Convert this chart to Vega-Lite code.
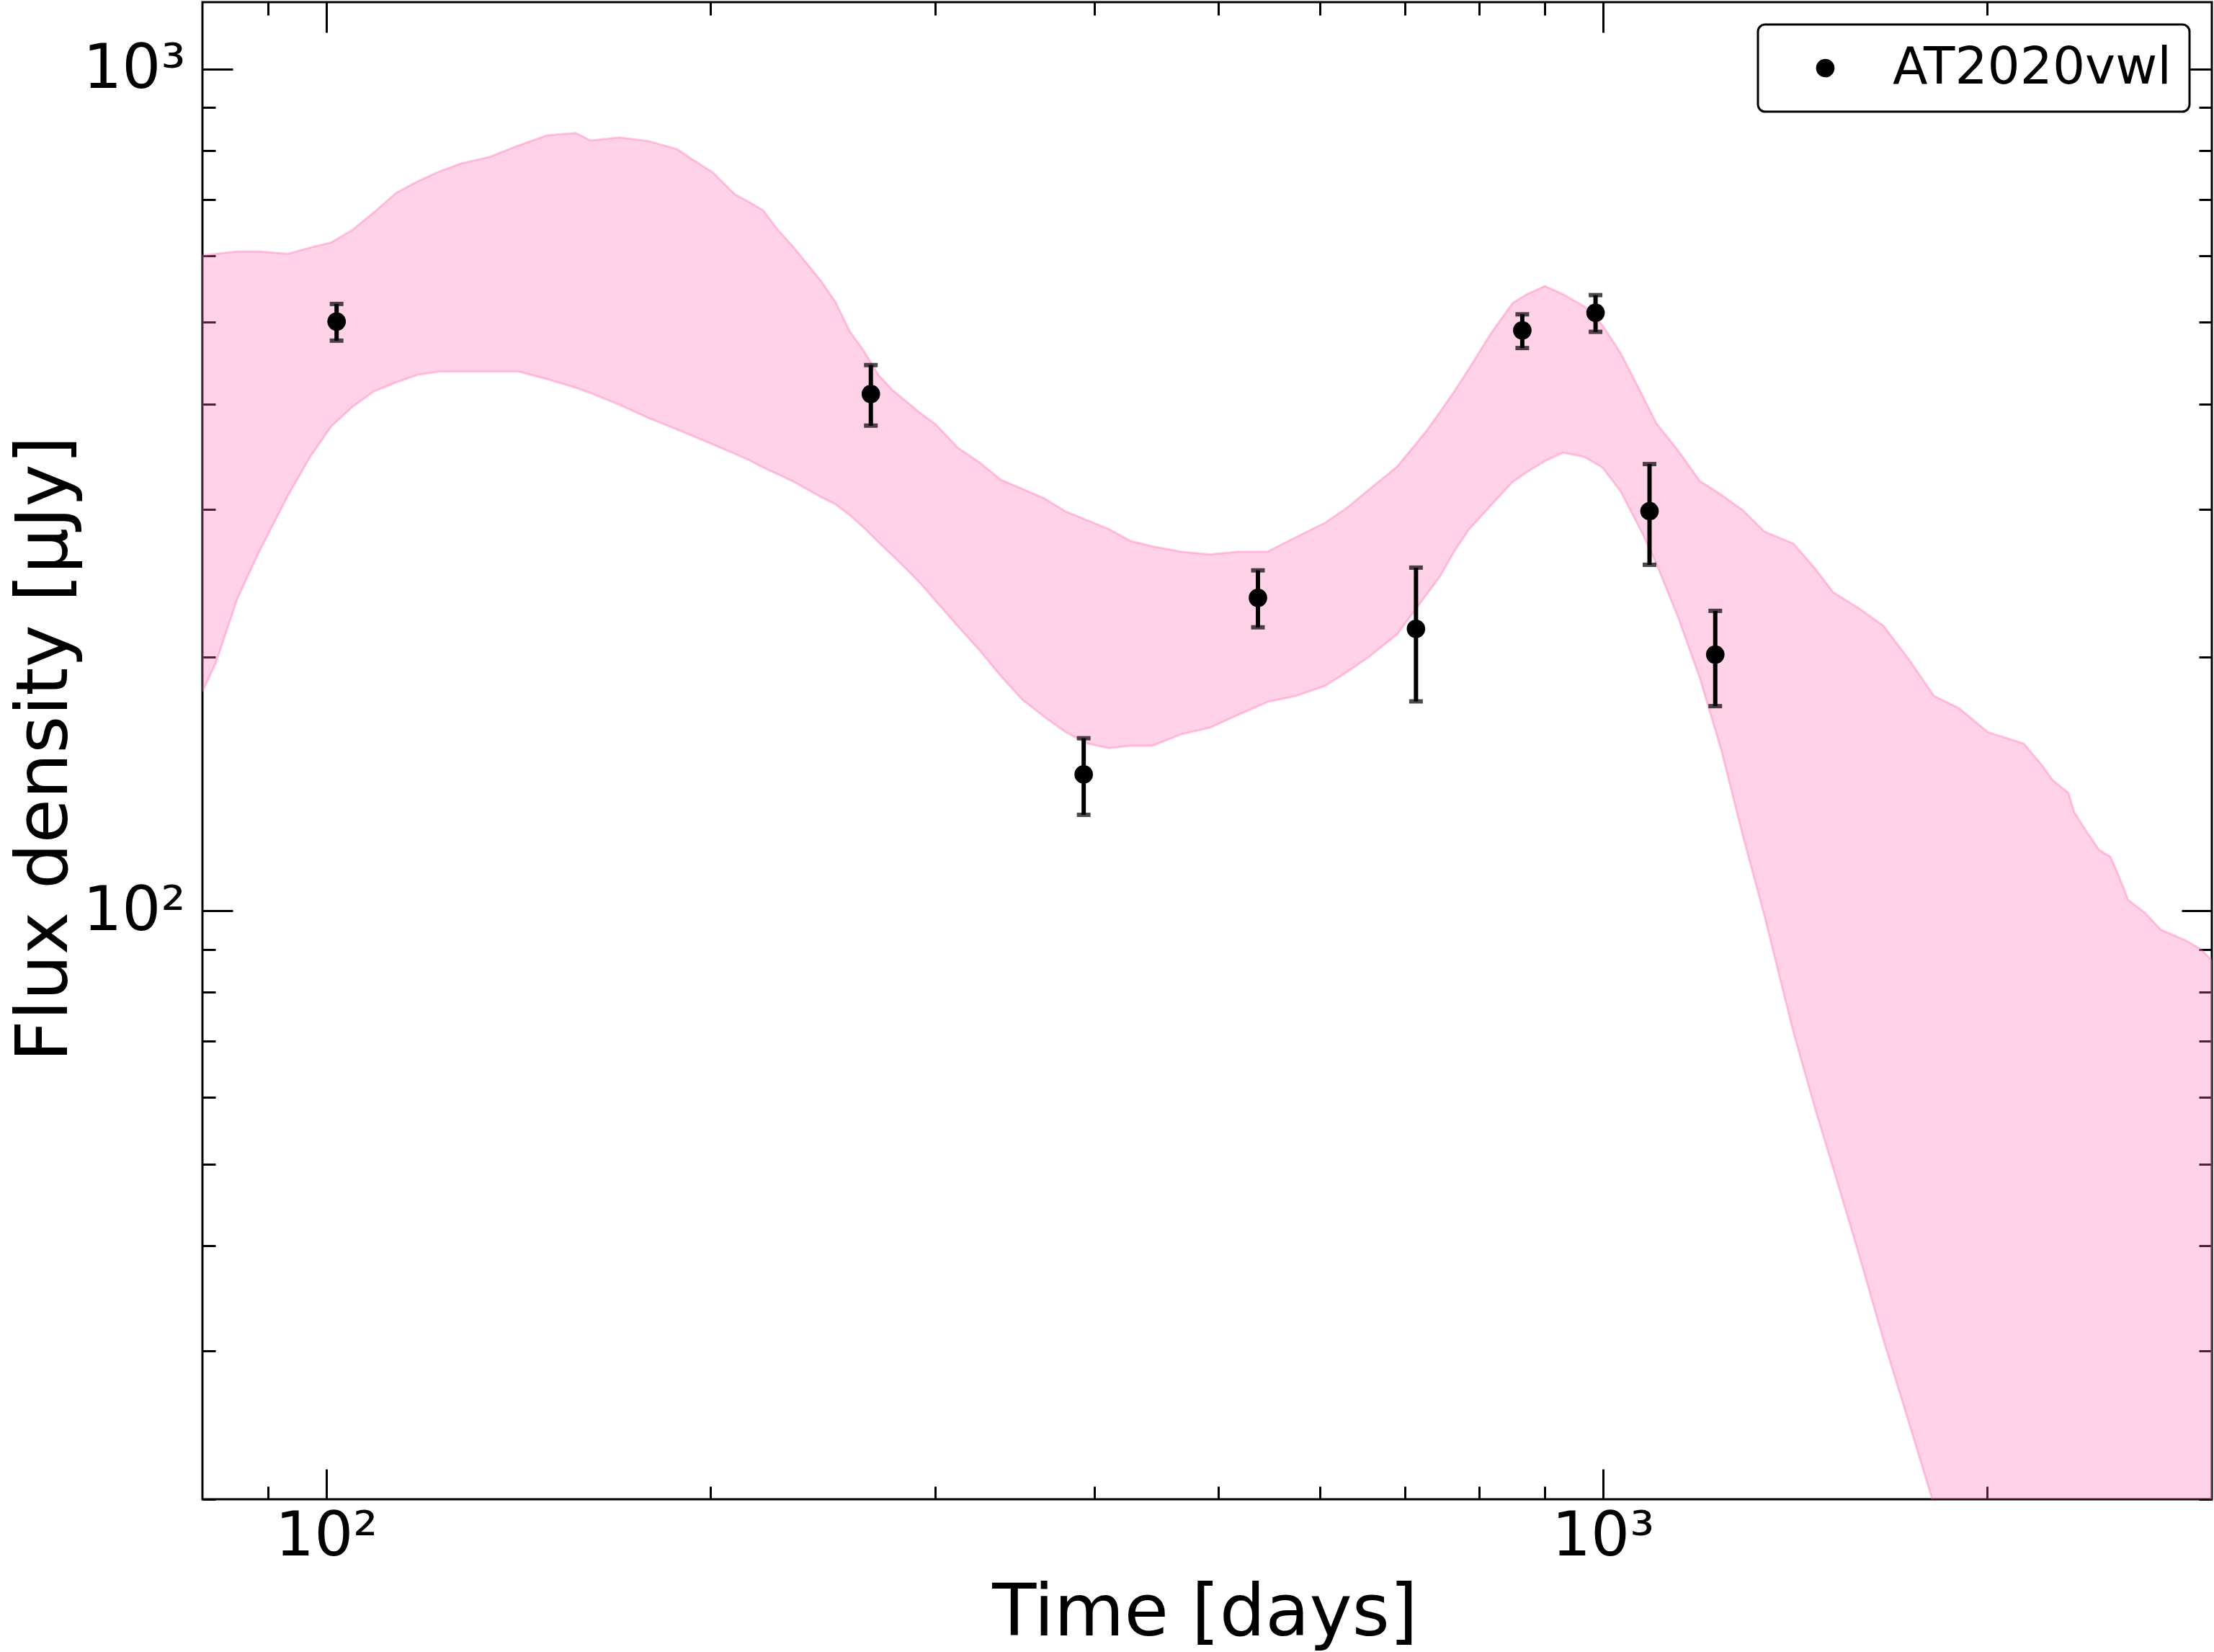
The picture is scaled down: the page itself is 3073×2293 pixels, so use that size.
{
  "$schema": "https://vega.github.io/schema/vega-lite/v6.json",
  "width": 2789,
  "height": 2078,
  "autosize": {"type": "none"},
  "padding": {"left": 281, "top": 3, "right": 3, "bottom": 212},
  "background": "white",
  "config": {
    "view": {"stroke": "black", "strokeWidth": 3},
    "font": "DejaVu Sans",
    "axis": {
      "grid": false,
      "domain": false,
      "tickColor": "black",
      "tickWidth": 3,
      "labelColor": "black",
      "labelFont": "DejaVu Sans",
      "labelFontSize": 85,
      "titleFont": "DejaVu Sans",
      "titleFontSize": 100,
      "titleFontWeight": "normal",
      "titleColor": "black",
      "labelLimit": 1000,
      "titleLimit": 3000,
      "labelOverlap": false,
      "labelFlush": false
    },
    "legend": {
      "orient": "top-right",
      "offset": 31,
      "padding": 25,
      "strokeColor": "black",
      "strokeWidth": 3,
      "cornerRadius": 10,
      "fillColor": "white",
      "labelFont": "DejaVu Sans",
      "labelFontSize": 71,
      "labelColor": "black",
      "labelLimit": 2000,
      "symbolType": "circle",
      "symbolSize": 660,
      "symbolStrokeWidth": 0,
      "symbolOffset": 33,
      "labelOffset": 58
    }
  },
  "datasets": {
    "band": [
      {"t": 80, "hi": 600, "lo": 182},
      {"t": 81.96, "hi": 603, "lo": 197},
      {"t": 85.22, "hi": 607, "lo": 235},
      {"t": 88.61, "hi": 607, "lo": 267},
      {"t": 93.32, "hi": 603, "lo": 311},
      {"t": 97.03, "hi": 613, "lo": 345},
      {"t": 100.9, "hi": 622, "lo": 376},
      {"t": 104.9, "hi": 644, "lo": 397},
      {"t": 109.05, "hi": 676, "lo": 414},
      {"t": 113.4, "hi": 712, "lo": 424},
      {"t": 117.9, "hi": 735, "lo": 433},
      {"t": 122.6, "hi": 755, "lo": 437},
      {"t": 127.5, "hi": 772, "lo": 437},
      {"t": 134.3, "hi": 786, "lo": 437},
      {"t": 141.5, "hi": 811, "lo": 437},
      {"t": 149.0, "hi": 834, "lo": 428},
      {"t": 156.9, "hi": 839, "lo": 418},
      {"t": 161.1, "hi": 822, "lo": 412},
      {"t": 169.7, "hi": 829, "lo": 399},
      {"t": 178.7, "hi": 821, "lo": 385},
      {"t": 188.3, "hi": 803, "lo": 373},
      {"t": 193.2, "hi": 782, "lo": 367},
      {"t": 200.9, "hi": 753, "lo": 358},
      {"t": 208.9, "hi": 710, "lo": 349},
      {"t": 214.4, "hi": 695, "lo": 343},
      {"t": 220.0, "hi": 679, "lo": 336},
      {"t": 225.8, "hi": 644, "lo": 330},
      {"t": 231.7, "hi": 617, "lo": 324},
      {"t": 237.8, "hi": 588, "lo": 317},
      {"t": 244.1, "hi": 560, "lo": 310},
      {"t": 250.5, "hi": 529, "lo": 304},
      {"t": 257.1, "hi": 488, "lo": 295},
      {"t": 263.8, "hi": 462, "lo": 285},
      {"t": 270.8, "hi": 433, "lo": 274},
      {"t": 277.9, "hi": 415, "lo": 264},
      {"t": 285.2, "hi": 402, "lo": 254},
      {"t": 292.7, "hi": 389, "lo": 244},
      {"t": 300.4, "hi": 378, "lo": 233},
      {"t": 312.3, "hi": 355, "lo": 218},
      {"t": 324.8, "hi": 341, "lo": 204},
      {"t": 337.7, "hi": 325, "lo": 190},
      {"t": 351.1, "hi": 317, "lo": 178},
      {"t": 365.1, "hi": 309, "lo": 170},
      {"t": 379.6, "hi": 298, "lo": 163},
      {"t": 394.7, "hi": 291, "lo": 158},
      {"t": 410.4, "hi": 284, "lo": 156},
      {"t": 426.7, "hi": 275, "lo": 157},
      {"t": 443.7, "hi": 271, "lo": 157},
      {"t": 467.4, "hi": 267, "lo": 162},
      {"t": 492.3, "hi": 265, "lo": 165},
      {"t": 518.6, "hi": 267, "lo": 171},
      {"t": 546.3, "hi": 267, "lo": 177},
      {"t": 575.4, "hi": 278, "lo": 180},
      {"t": 606.1, "hi": 289, "lo": 185},
      {"t": 630.2, "hi": 301, "lo": 192},
      {"t": 655.3, "hi": 316, "lo": 200},
      {"t": 690.2, "hi": 337, "lo": 213},
      {"t": 727.1, "hi": 371, "lo": 237},
      {"t": 746.2, "hi": 392, "lo": 250},
      {"t": 765.9, "hi": 415, "lo": 268},
      {"t": 786.0, "hi": 441, "lo": 284},
      {"t": 817.3, "hi": 485, "lo": 303},
      {"t": 849.8, "hi": 527, "lo": 323},
      {"t": 872.1, "hi": 540, "lo": 332},
      {"t": 900.9, "hi": 552, "lo": 342},
      {"t": 930.6, "hi": 540, "lo": 350},
      {"t": 967.5, "hi": 522, "lo": 346},
      {"t": 999.5, "hi": 496, "lo": 336},
      {"t": 1032.5, "hi": 460, "lo": 315},
      {"t": 1073.6, "hi": 410, "lo": 281},
      {"t": 1101.9, "hi": 379, "lo": 258},
      {"t": 1145.7, "hi": 352, "lo": 223},
      {"t": 1191.2, "hi": 324, "lo": 189},
      {"t": 1238.6, "hi": 312, "lo": 155},
      {"t": 1287.9, "hi": 299, "lo": 122.5},
      {"t": 1339.1, "hi": 282, "lo": 98.4},
      {"t": 1410.5, "hi": 273, "lo": 71.7},
      {"t": 1466.6, "hi": 255, "lo": 58.2},
      {"t": 1515.0, "hi": 239, "lo": 49.5},
      {"t": 1585.5, "hi": 229, "lo": 39.3},
      {"t": 1659.3, "hi": 218, "lo": 30.9},
      {"t": 1736.5, "hi": 199, "lo": 24.7},
      {"t": 1817.3, "hi": 180, "lo": 19.7},
      {"t": 1901.8, "hi": 174, "lo": 15.8},
      {"t": 2003.2, "hi": 163, "lo": 12.3},
      {"t": 2136.9, "hi": 158, "lo": 8.9},
      {"t": 2207.5, "hi": 149, "lo": 7.7},
      {"t": 2250.9, "hi": 143, "lo": 6.9},
      {"t": 2316.2, "hi": 138, "lo": 6.0},
      {"t": 2340.4, "hi": 131, "lo": 5.7},
      {"t": 2386.5, "hi": 125, "lo": 5.2},
      {"t": 2449.3, "hi": 118, "lo": 4.6},
      {"t": 2497.5, "hi": 116, "lo": 4.2},
      {"t": 2530.2, "hi": 111, "lo": 4.0},
      {"t": 2580.0, "hi": 103, "lo": 3.6},
      {"t": 2658.3, "hi": 99.5, "lo": 3.2},
      {"t": 2735.4, "hi": 95.0, "lo": 2.8},
      {"t": 2862.6, "hi": 92.2, "lo": 2.3},
      {"t": 2937.9, "hi": 90.1, "lo": 2.0},
      {"t": 3000, "hi": 87.4, "lo": 1.8}
    ],
    "obs": [
      {"t": 101.9, "f": 501, "lo": 475.5, "hi": 525.7, "series": "AT2020vwl"},
      {"t": 267.1, "f": 411, "lo": 376.9, "hi": 444.8, "series": "AT2020vwl"},
      {"t": 392.1, "f": 145.2, "lo": 130, "hi": 160.3, "series": "AT2020vwl"},
      {"t": 536.9, "f": 235.3, "lo": 217.1, "hi": 253.7, "series": "AT2020vwl"},
      {"t": 714, "f": 216.2, "lo": 177.3, "hi": 255.6, "series": "AT2020vwl"},
      {"t": 864.9, "f": 489, "lo": 466, "hi": 511, "series": "AT2020vwl"},
      {"t": 987.1, "f": 513.2, "lo": 487.1, "hi": 538.6, "series": "AT2020vwl"},
      {"t": 1088, "f": 298.3, "lo": 257.6, "hi": 339.3, "series": "AT2020vwl"},
      {"t": 1225, "f": 201.5, "lo": 175, "hi": 227.1, "series": "AT2020vwl"}
    ]
  },
  "layer": [
    {
      "data": {"name": "band"},
      "mark": {"type": "area", "fill": "#ff69b4", "fillOpacity": 0.3, "stroke": "#ff69b4", "strokeOpacity": 0.35, "strokeWidth": 3, "clip": true},
      "encoding": {
        "x": {
          "field": "t", "type": "quantitative",
          "scale": {"type": "log", "domain": [80, 3000], "nice": false},
          "axis": {
            "orient": "bottom",
            "values": [90, 100, 200, 300, 400, 500, 600, 700, 800, 900, 1000, 2000],
            "labelExpr": "datum.value == 100 ? '10²' : datum.value == 1000 ? '10³' : ''",
            "tickSize": {"condition": {"test": "datum.value == 100 || datum.value == 1000", "value": -42}, "value": -18},
            "labelPadding": 119,
            "labelBaseline": "alphabetic",
            "labelAlign": "center",
            "title": "Time [days]",
            "titleX": 1391,
            "titleY": 188,
            "titleAlign": "center",
            "titleBaseline": "alphabetic"
          }
        },
        "y": {
          "field": "hi", "type": "quantitative",
          "scale": {"type": "log", "domain": [20, 1200], "nice": false},
          "axis": {
            "orient": "left",
            "values": [20, 30, 40, 50, 60, 70, 80, 90, 100, 200, 300, 400, 500, 600, 700, 800, 900, 1000],
            "labelExpr": "datum.value == 100 ? '10²' : datum.value == 1000 ? '10³' : ''",
            "tickSize": {"condition": {"test": "datum.value == 100 || datum.value == 1000", "value": -42}, "value": -18},
            "labelPadding": 66,
            "labelAlign": "right",
            "labelBaseline": "middle",
            "title": "Flux density [μJy]",
            "titleX": -189,
            "titleY": 1036,
            "titleAngle": 270,
            "titleAlign": "center",
            "titleBaseline": "alphabetic"
          }
        },
        "y2": {"field": "lo"}
      }
    },
    {
      "data": {"name": "obs"},
      "mark": {"type": "errorbar", "color": "black", "thickness": 6, "ticks": {"size": 19, "thickness": 6, "color": "black"}},
      "encoding": {
        "x": {"field": "t", "type": "quantitative", "scale": {"type": "log", "domain": [80, 3000], "nice": false}, "axis": null},
        "y": {"field": "lo", "type": "quantitative", "scale": {"type": "log", "domain": [20, 1200], "nice": false}, "axis": null},
        "y2": {"field": "hi"}
      }
    },
    {
      "data": {"name": "obs"},
      "mark": {"type": "circle", "size": 660, "opacity": 1},
      "encoding": {
        "x": {
          "field": "t", "type": "quantitative",
          "scale": {"type": "log", "domain": [80, 3000], "nice": false},
          "axis": {
            "orient": "top",
            "values": [90, 100, 200, 300, 400, 500, 600, 700, 800, 900, 1000, 2000],
            "labels": false,
            "title": null,
            "tickSize": {"condition": {"test": "datum.value == 100 || datum.value == 1000", "value": -42}, "value": -18}
          }
        },
        "y": {
          "field": "f", "type": "quantitative",
          "scale": {"type": "log", "domain": [20, 1200], "nice": false},
          "axis": {
            "orient": "right",
            "values": [20, 30, 40, 50, 60, 70, 80, 90, 100, 200, 300, 400, 500, 600, 700, 800, 900, 1000],
            "labels": false,
            "title": null,
            "tickSize": {"condition": {"test": "datum.value == 100 || datum.value == 1000", "value": -42}, "value": -18}
          }
        },
        "color": {"field": "series", "type": "nominal", "scale": {"range": ["black"]}, "legend": {"title": null}}
      }
    }
  ],
  "resolve": {"axis": {"x": "independent", "y": "independent"}}
}
